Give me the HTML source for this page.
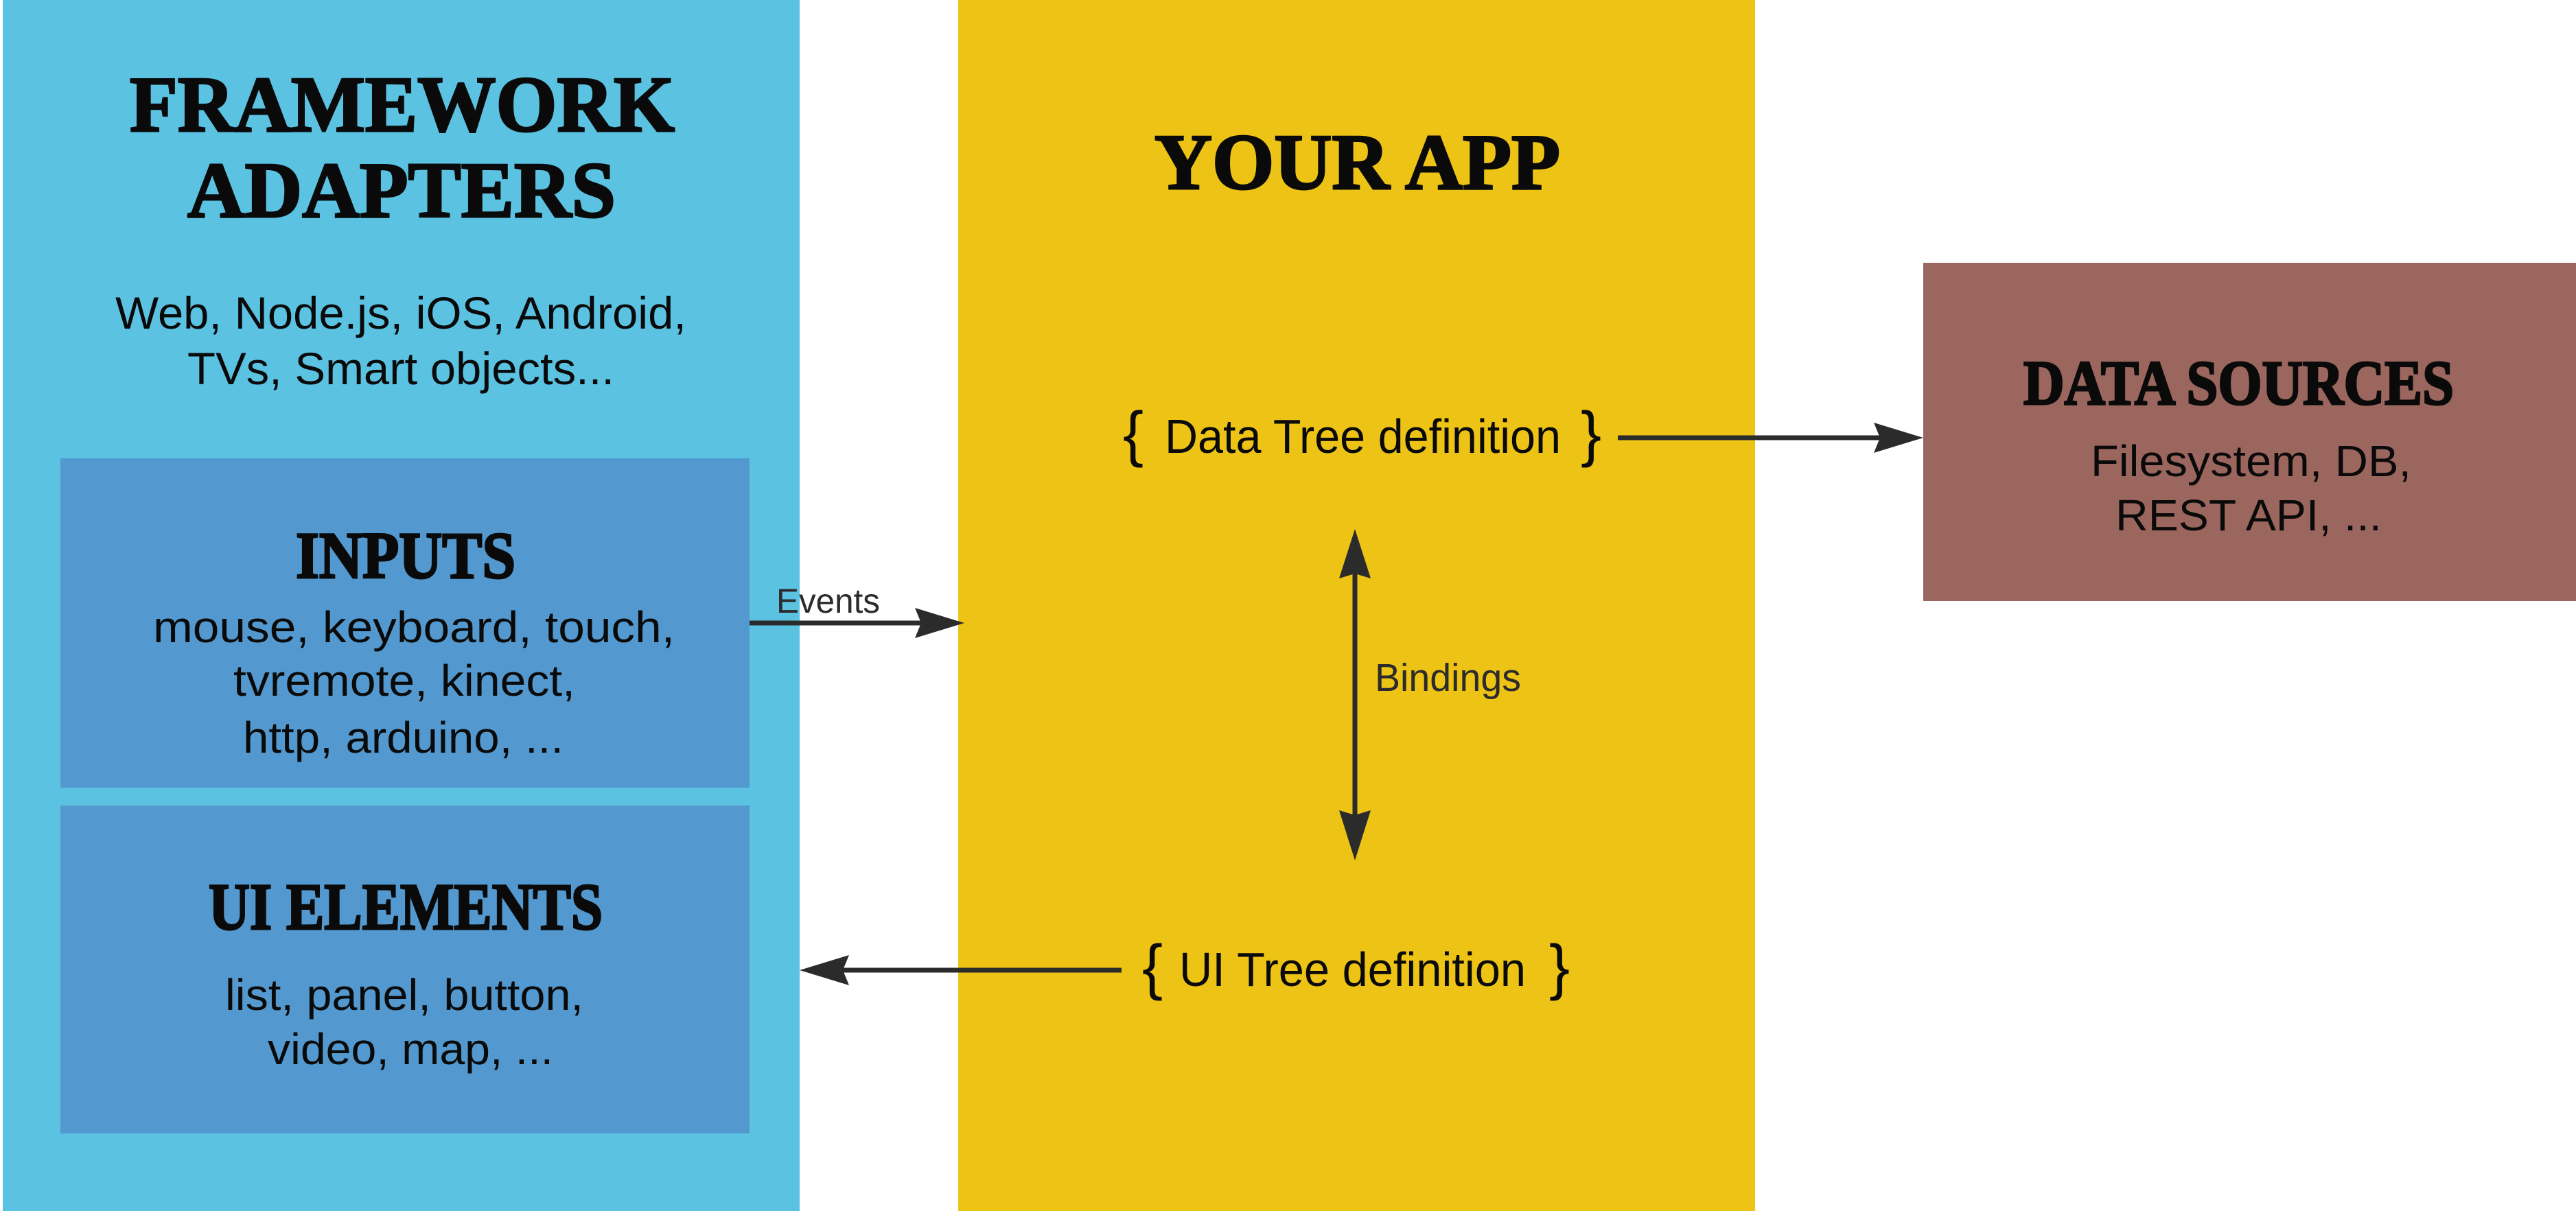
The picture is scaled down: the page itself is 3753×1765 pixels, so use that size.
<!DOCTYPE html>
<html><head><meta charset="utf-8"><style>html,body{margin:0;padding:0;background:#fff}svg{display:block}</style></head>
<body>
<svg width="3753" height="1765" viewBox="0 0 3753 1765" xmlns="http://www.w3.org/2000/svg">
<rect x="0" y="0" width="3753" height="1765" fill="#fff"/>
<rect x="4" y="0" width="1161" height="1765" fill="#5BC2E2"/>
<rect x="88" y="668" width="1004" height="480" fill="#5399CF"/>
<rect x="88" y="1174" width="1004" height="478" fill="#5399CF"/>
<rect x="1396" y="0" width="1161" height="1765" fill="#EDC316"/>
<rect x="2802" y="383" width="951" height="493" fill="#9B665D"/>

<g font-family="Liberation Serif, serif" font-weight="bold" fill="#0a0a0a" stroke="#0a0a0a" stroke-width="3">
<text x="189" y="191" font-size="116" textLength="794" lengthAdjust="spacingAndGlyphs">FRAMEWORK</text>
<text x="273" y="316" font-size="116" textLength="624" lengthAdjust="spacingAndGlyphs">ADAPTERS</text>
<text x="431" y="842" font-size="96" textLength="320" lengthAdjust="spacingAndGlyphs">INPUTS</text>
<text x="304" y="1354" font-size="96" textLength="574" lengthAdjust="spacingAndGlyphs">UI ELEMENTS</text>
<text x="1682" y="275" font-size="116" textLength="591" lengthAdjust="spacingAndGlyphs">YOUR APP</text>
<text x="2948" y="589" font-size="92" textLength="627" lengthAdjust="spacingAndGlyphs">DATA SOURCES</text>
</g>

<g font-family="Liberation Sans, sans-serif" fill="#0a0a0a">
<text x="168" y="479" font-size="66" textLength="832" lengthAdjust="spacingAndGlyphs">Web, Node.js, iOS, Android,</text>
<text x="273" y="560" font-size="66" textLength="622" lengthAdjust="spacingAndGlyphs">TVs, Smart objects...</text>
<text x="223" y="936" font-size="64" textLength="760" lengthAdjust="spacingAndGlyphs">mouse, keyboard, touch,</text>
<text x="340" y="1014" font-size="64" textLength="498" lengthAdjust="spacingAndGlyphs">tvremote, kinect,</text>
<text x="354" y="1097" font-size="64" textLength="467" lengthAdjust="spacingAndGlyphs">http, arduino, ...</text>
<text x="328" y="1472" font-size="64" textLength="522" lengthAdjust="spacingAndGlyphs">list, panel, button,</text>
<text x="390" y="1551" font-size="64" textLength="416" lengthAdjust="spacingAndGlyphs">video, map, ...</text>
<text x="3046" y="694" font-size="64" textLength="467" lengthAdjust="spacingAndGlyphs">Filesystem, DB,</text>
<text x="3082" y="773" font-size="64" textLength="388" lengthAdjust="spacingAndGlyphs">REST API, ...</text>
<text x="1697" y="660" font-size="70" textLength="577" lengthAdjust="spacingAndGlyphs">Data Tree definition</text>
<text x="1718" y="1437" font-size="70" textLength="505" lengthAdjust="spacingAndGlyphs">UI Tree definition</text>
<text x="1651" y="663" font-size="90" text-anchor="middle">{</text>
<text x="2318" y="663" font-size="90" text-anchor="middle">}</text>
<text x="1679" y="1440" font-size="90" text-anchor="middle">{</text>
<text x="2272" y="1440" font-size="90" text-anchor="middle">}</text>
</g>
<g font-family="Liberation Sans, sans-serif" fill="#2b2b2b">
<text x="1131" y="893" font-size="50" textLength="151" lengthAdjust="spacingAndGlyphs">Events</text>
<text x="2003" y="1007" font-size="57" textLength="213" lengthAdjust="spacingAndGlyphs">Bindings</text>
</g>

<g stroke="#2b2b2b" stroke-width="7" fill="none">
<line x1="1092" y1="908" x2="1345" y2="908"/>
<line x1="2357" y1="638" x2="2750" y2="638"/>
<line x1="1974" y1="830" x2="1974" y2="1190"/>
<line x1="1215" y1="1414" x2="1634" y2="1414"/>
</g>
<g fill="#2b2b2b">
<path d="M1405,908 L1333,886 L1342,908 L1333,930 Z"/>
<path d="M2802,638 L2730,616 L2739,638 L2730,660 Z"/>
<path d="M1974,771 L1951,843 L1974,836 L1997,843 Z"/>
<path d="M1974,1254 L1951,1181 L1974,1188 L1997,1181 Z"/>
<path d="M1165,1414 L1237,1392 L1228,1414 L1237,1436 Z"/>
</g>
</svg>
</body></html>
